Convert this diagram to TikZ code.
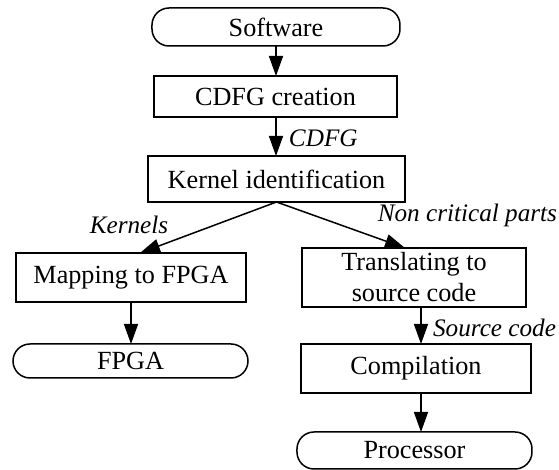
\documentclass[tikz,border=0pt]{standalone}
\usepackage{fontspec}
\setmainfont{Liberation Serif}
\usetikzlibrary{arrows.meta,calc}
\begin{document}
\begin{tikzpicture}[x=0.5pt,y=-0.5pt,
  font=\fontsize{13.1}{15.5}\selectfont,
  every node/.style={inner sep=0pt,outer sep=0pt},
  box/.style={draw,line width=0.75pt,align=center},
  term/.style={draw,line width=0.75pt,rounded corners=8.5pt},
  lbl/.style={font=\fontsize{12.6}{15}\selectfont\itshape},
  arr/.style={line width=0.75pt,-{Triangle[length=10pt,width=7pt]}}]
\useasboundingbox (0,0) rectangle (559,470);
\node[term,minimum width=124pt,minimum height=19pt] (sw) at (276,27) {Software};
\node[box,minimum width=121.5pt,minimum height=20.5pt] (cdfg) at (275.5,96.5) {CDFG creation};
\node[box,minimum width=128.5pt,minimum height=23pt] (ker) at (276.5,179) {Kernel identification};
\node[box,minimum width=115pt,minimum height=24.5pt] (map) at (131,277.5) {Mapping to FPGA};
\node[term,minimum width=117.5pt,minimum height=17pt] (fpga) at (130.5,361) {FPGA};
\node[box,minimum width=112pt,minimum height=29.5pt] (tr) at (414,277.5) {Translating to\\source code};
\node[box,minimum width=115pt,minimum height=24.5pt] (comp) at (416,368.5) {Compilation};
\node[term,minimum width=117.5pt,minimum height=18.5pt] (proc) at (414.5,450.5) {Processor};
\node[lbl,anchor=west] (lcdfg) at (289,138) {CDFG};
\node[lbl] (lker) at (129,225) {Kernels};
\node[lbl,anchor=east] (lnc) at (557,215) {Non critical parts};
\node[lbl,anchor=east] (lsc) at (556,328) {Source code};
\draw[arr] (sw.south) -- (sw.south |- cdfg.north);
\draw[arr] (sw.south |- cdfg.south) -- (sw.south |- ker.north);
\draw[arr] (ker.south) -- ($(map.north)+(4.5pt,0)$);
\draw[arr] (ker.south) -- ($(tr.north)+(-4.5pt,0)$);
\draw[arr] (map.south) -- (map.south |- fpga.north);
\coordinate (rx) at (421,0);
\draw[arr] (rx |- tr.south) -- (rx |- comp.north);
\draw[arr] (rx |- comp.south) -- (rx |- proc.north);
\end{tikzpicture}
\end{document}
